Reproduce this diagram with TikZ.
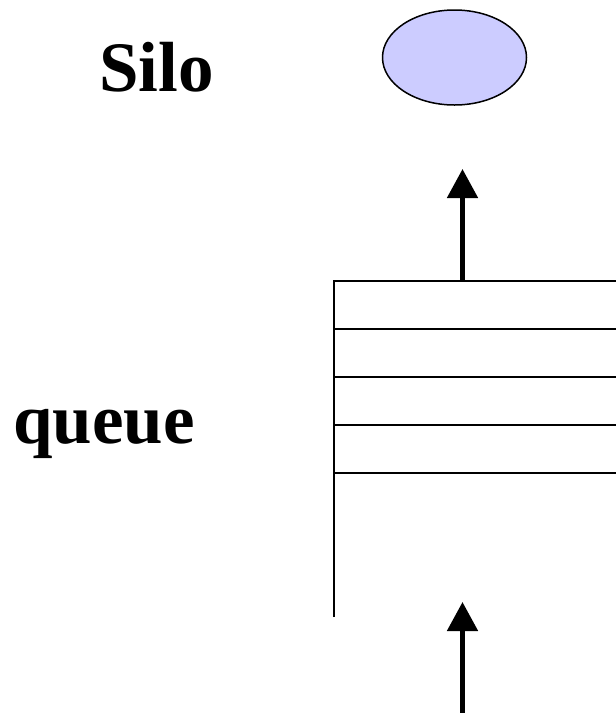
\documentclass[tikz,border=0pt]{standalone}
\usepackage{fontspec}
\setmainfont{Liberation Serif}
\usetikzlibrary{shapes.geometric,arrows.meta}
\definecolor{silofill}{RGB}{204,204,255}
\begin{document}
\begin{tikzpicture}[x=1pt,y=-1pt,
  label/.style={anchor=base west,inner sep=0pt,font=\fontsize{71}{80}\selectfont\bfseries},
  flow/.style={line width=5pt,-{Triangle[width=30pt,length=29pt]}},
  slot/.style={line width=1.8pt}]
  \useasboundingbox (0,0) rectangle (616,713);

  % labels
  \node[label] (silotext) at (99,91) {Silo};
  \node[label] (queuetext) at (13,443) {queue};

  % silo
  \node[ellipse,draw,line width=1.5pt,fill=silofill,minimum width=144pt,minimum height=95pt,inner sep=0pt] (silo) at (454.5,57.5) {};

  % queue: open stack of slots
  \coordinate (qtop) at (462.5,281);
  \coordinate (outtip) at (462.5,169);
  \coordinate (intail) at (462.5,713);
  \coordinate (intip) at (462.5,602);
  \coordinate (ql) at (334,281);
  \coordinate (qbot) at (334,617);
  \draw[slot] (qbot) -- (ql) -- (616,281);
  \foreach \y in {329,377,425,473}
    \draw[slot] (334,\y) -- (616,\y);

  % flows
  \draw[flow] (qtop) -- (outtip);
  \draw[flow] (intail) -- (intip);
\end{tikzpicture}
\end{document}
